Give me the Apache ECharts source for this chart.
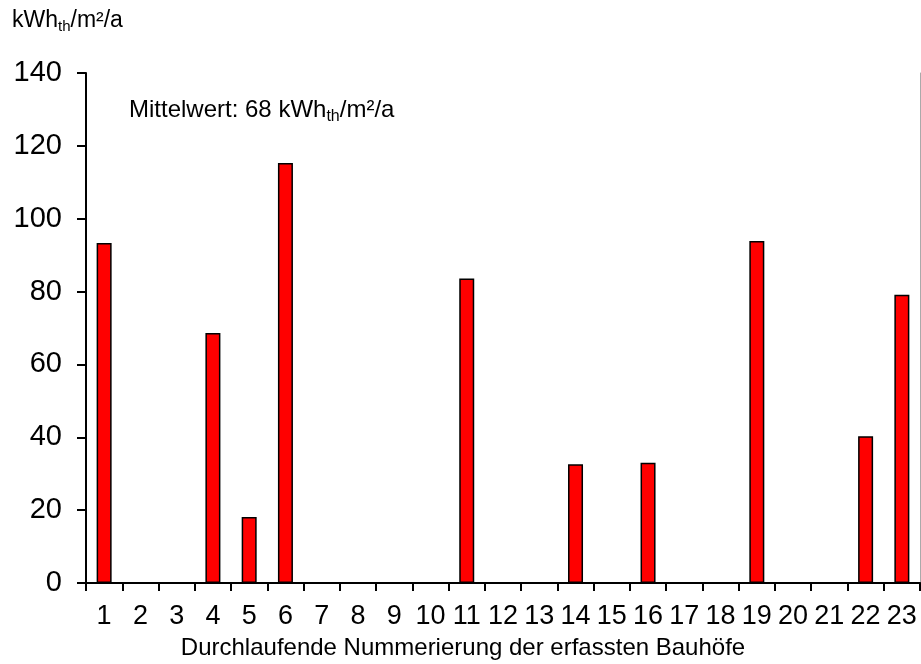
<!DOCTYPE html>
<html>
<head>
<meta charset="utf-8">
<script src="https://cdn.jsdelivr.net/npm/echarts@6/dist/echarts.min.js"></script>
<style>
html,body{margin:0;padding:0;background:#fff;}
#chart{width:921px;height:664px;}
</style>
</head>
<body>
<div id="chart"></div>
<script>
const categories = ['1','2','3','4','5','6','7','8','9','10','11','12','13','14','15','16','17','18','19','20','21','22','23'];
const values = [93.3, null, null, 68.6, 18.1, 115.3, null, null, null, null, 83.6, null, null, 32.6, null, 33.0, null, null, 93.9, null, null, 40.3, 79.1];
const yTicks = {min: 0, max: 140, interval: 20};
const xTitle = 'Durchlaufende Nummerierung der erfassten Bauhöfe';
const meanText = '{m|Mittelwert: 68 kWh}{s|th}{m|/m²/a}';
const unitText = '{m|kWh}{s|th}{m|/m²/a}';

const FONT = '"Liberation Sans", Arial, sans-serif';
const chart = echarts.init(document.getElementById('chart'), null, {renderer: 'canvas'});
chart.setOption({
  animation: false,
  backgroundColor: '#ffffff',
  grid: {left: 86, right: 1, top: 73, bottom: 81, containLabel: false},
  xAxis: [{
    type: 'category',
    data: categories,
    boundaryGap: true,
    axisLine: {show: true, lineStyle: {color: '#000', width: 2}},
    axisTick: {show: true, inside: false, length: 8, interval: 0, alignWithLabel: false, lineStyle: {color: '#000', width: 2}},
    axisLabel: {interval: 0, margin: 20, color: '#000', fontSize: 27, fontFamily: FONT},
    splitLine: {show: false}
  }, {
    type: 'category',
    data: categories,
    position: 'top',
    axisLine: {show: true, lineStyle: {color: '#000', width: 1.5}},
    axisTick: {show: false},
    axisLabel: {show: false},
    splitLine: {show: false}
  }],
  yAxis: [{
    type: 'value',
    min: yTicks.min, max: yTicks.max, interval: yTicks.interval,
    axisLine: {show: true, lineStyle: {color: '#000', width: 2}},
    axisTick: {show: true, inside: false, length: 9, lineStyle: {color: '#000', width: 2}},
    axisLabel: {margin: 24, color: '#000', fontSize: 29, fontFamily: FONT},
    splitLine: {show: false}
  }, {
    type: 'value',
    position: 'right',
    min: yTicks.min, max: yTicks.max, interval: yTicks.interval,
    axisLine: {show: true, lineStyle: {color: '#aaa', width: 1}},
    axisTick: {show: false},
    axisLabel: {show: false},
    splitLine: {show: false}
  }],
  series: [{
    type: 'bar',
    data: values,
    barWidth: 15,
    itemStyle: {color: '#ff0000', borderColor: '#000', borderWidth: 1.5},
    emphasis: {disabled: true}
  }],
  graphic: [{
    type: 'text',
    left: 12, top: 9,
    style: {
      text: unitText,
      fill: '#000',
      rich: {
        m: {fontSize: 23, fontFamily: FONT, fill: '#000'},
        s: {fontSize: 15, fontFamily: FONT, fill: '#000', padding: [13, 0, 0, 0]}
      }
    }
  }, {
    type: 'text',
    left: 129, top: 98,
    style: {
      text: meanText,
      fill: '#000',
      rich: {
        m: {fontSize: 24, fontFamily: FONT, fill: '#000'},
        s: {fontSize: 16, fontFamily: FONT, fill: '#000', padding: [14, 0, 0, 0]}
      }
    }
  }, {
    type: 'text',
    x: 463, y: 648,
    style: {
      text: xTitle,
      fill: '#000',
      font: '24px "Liberation Sans", Arial, sans-serif',
      align: 'center',
      verticalAlign: 'middle'
    }
  }]
});
</script>
</body>
</html>
